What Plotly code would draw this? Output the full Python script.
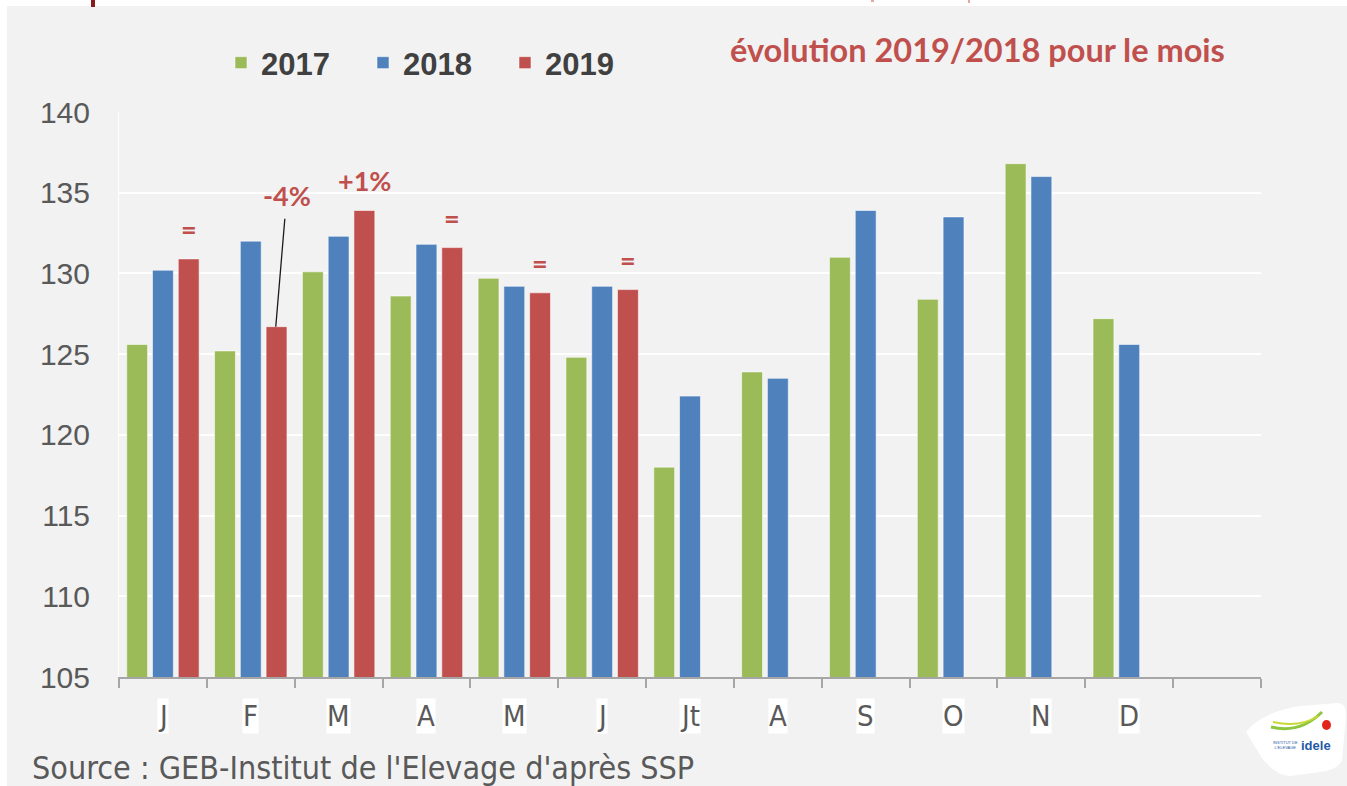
import plotly.graph_objects as go

# Monthly values (index) per year
month_labels = ["J", "F", "M", "A", "M", "J", "Jt", "A", "S", "O", "N", "D"]
years = ["2017", "2018", "2019"]
values_2017 = [125.6, 125.2, 130.1, 128.6, 129.7, 124.8, 118.0, 123.9, 131.0, 128.4, 136.8, 127.2]
values_2018 = [130.2, 132.0, 132.3, 131.8, 129.2, 129.2, 122.4, 123.5, 133.9, 133.5, 136.0, 125.6]
values_2019 = [130.9, 126.7, 133.9, 131.6, 128.8, 129.0, None, None, None, None, None, None]
# Year-on-year change 2019/2018 written above each 2019 bar
evolution_labels = ["=", "-4%", "+1%", "=", "=", "="]

colors = {"2017": "#9bbb59", "2018": "#4f81bd", "2019": "#c0504d"}
series = {"2017": values_2017, "2018": values_2018, "2019": values_2019}

W, H = 1347, 786
L, R, T, B = 119, 86, 112, 109
plot_w, plot_h = W - L - R, H - T - B

x_idx = list(range(len(month_labels)))
n_slots = len(month_labels) + 1  # one empty slot at the end of the axis

fig = go.Figure()
for yr in years:
    fig.add_trace(go.Bar(
        x=x_idx, y=series[yr], name=yr,
        marker=dict(color=colors[yr], line=dict(color="rgba(255,255,255,0.55)", width=1)),
    ))


def px(X):
    return (X - L) / plot_w


def py(Y):
    return (H - B - Y) / plot_h


annotations = []

# month labels on white boxes below the axis
for i, lab in enumerate(month_labels):
    annotations.append(dict(
        x=i, y=0, xref="x", yref="paper", text=lab, showarrow=False,
        yanchor="middle", yshift=-39, bgcolor="white", borderpad=0,
        font=dict(family="DejaVu Sans Condensed, sans-serif", size=29, color="#595959"),
    ))

# evolution labels above the 2019 bars
slot_shift = 26
label_font = dict(family="Lato, DejaVu Sans, sans-serif", size=27, color=colors["2019"], weight="bold")
for i, lab in enumerate(evolution_labels):
    v = values_2019[i]
    if lab == "-4%":
        annotations.append(dict(
            x=i, y=v, xref="x", yref="y", text=lab, showarrow=True,
            arrowhead=0, arrowwidth=1.3, arrowcolor="#1a1a1a",
            xshift=slot_shift - 1, ax=11, ay=-131, borderpad=6,
            font=label_font,
        ))
    else:
        annotations.append(dict(
            x=i, y=v, xref="x", yref="y", text=lab, showarrow=False,
            xshift=slot_shift, yshift=30, yanchor="middle",
            font=label_font,
        ))

# heading on the right
annotations.append(dict(
    x=px(977), y=py(50), xref="paper", yref="paper", xanchor="center", yanchor="middle",
    text="évolution 2019/2018 pour le mois", showarrow=False,
    font=dict(family="Lato, DejaVu Sans, sans-serif", size=32.5, color=colors["2019"], weight="bold"),
))

# source line
annotations.append(dict(
    x=px(30), y=py(768), xref="paper", yref="paper", xanchor="left", yanchor="middle",
    text="Source : GEB-Institut de l'Elevage d'après SSP", showarrow=False,
    font=dict(family="DejaVu Sans Condensed, sans-serif", size=32, color="#595959"),
))

# logo text
annotations.append(dict(
    x=px(1316), y=py(745), xref="paper", yref="paper", xanchor="center", yanchor="middle",
    text="<b>idele</b>", showarrow=False,
    font=dict(family="Liberation Sans, sans-serif", size=13, color="#1f5aa6"),
))
annotations.append(dict(
    x=px(1285), y=py(745), xref="paper", yref="paper", xanchor="center", yanchor="middle",
    text="INSTITUT DE<br>L'ELEVAGE", showarrow=False,
    font=dict(family="Liberation Sans, sans-serif", size=4, color="#1f5aa6"),
))

shapes = [
    # white margins at the top and left edges
    dict(type="rect", xref="paper", yref="paper", x0=px(0), x1=px(W), y0=py(6), y1=py(0),
         fillcolor="white", line=dict(width=0), layer="below"),
    dict(type="rect", xref="paper", yref="paper", x0=px(0), x1=px(7), y0=py(H), y1=py(0),
         fillcolor="white", line=dict(width=0), layer="below"),
    dict(type="rect", xref="paper", yref="paper", x0=px(91), x1=px(95), y0=py(7), y1=py(0),
         fillcolor="#8b1a1a", line=dict(width=0)),
    dict(type="rect", xref="paper", yref="paper", x0=px(871), x1=px(874), y0=py(2), y1=py(0),
         fillcolor="#e3a8a6", line=dict(width=0)),
    dict(type="rect", xref="paper", yref="paper", x0=px(968), x1=px(970), y0=py(3), y1=py(0),
         fillcolor="#e3a8a6", line=dict(width=0)),
    # logo badge
    dict(type="path", xref="paper", yref="paper",
         path=(f"M {px(1246)},{py(732)} Q {px(1262)},{py(712)} {px(1300)},{py(706)} "
               f"L {px(1338)},{py(703)} Q {px(1347)},{py(704)} {px(1346)},{py(716)} "
               f"L {px(1342)},{py(760)} Q {px(1338)},{py(770)} {px(1320)},{py(772)} "
               f"L {px(1290)},{py(776)} Q {px(1276)},{py(776)} {px(1262)},{py(758)} Z"),
         fillcolor="white", line=dict(width=0)),
    dict(type="path", xref="paper", yref="paper",
         path=f"M {px(1271)},{py(727)} Q {px(1300)},{py(734)} {px(1322)},{py(712)}",
         line=dict(color="#8dc63f", width=3)),
    dict(type="path", xref="paper", yref="paper",
         path=f"M {px(1273)},{py(722)} Q {px(1300)},{py(728)} {px(1318)},{py(716)}",
         line=dict(color="#c9d936", width=2)),
    dict(type="circle", xref="paper", yref="paper", x0=px(1322), x1=px(1331), y0=py(730), y1=py(720),
         fillcolor="#e1251b", line=dict(width=0)),
]

fig.update_layout(
    width=W, height=H,
    margin=dict(l=L, r=R, t=T, b=B, pad=0, autoexpand=False),
    paper_bgcolor="#f2f2f2", plot_bgcolor="#f2f2f2",
    barmode="group", bargap=0.12, bargroupgap=0.19,
    showlegend=True,
    legend=dict(
        orientation="h", xref="paper", yref="paper",
        x=px(221), xanchor="left", y=py(63), yanchor="middle",
        entrywidth=97, entrywidthmode="pixels",
        bgcolor="rgba(0,0,0,0)",
        font=dict(family="Liberation Sans, Arial, sans-serif", size=31,
                  color="#404040", weight="bold"),
    ),
    xaxis=dict(
        range=[-0.5, n_slots - 0.5],
        tickmode="array", tickvals=[i - 0.5 for i in range(n_slots + 1)],
        showticklabels=False, ticks="outside", ticklen=9, tickwidth=2, tickcolor="#a6a6a6",
        showline=True, linecolor="#a6a6a6", linewidth=2,
        showgrid=False, zeroline=False, fixedrange=True, automargin=False,
    ),
    yaxis=dict(
        range=[105, 140], dtick=5, tick0=105,
        showgrid=True, gridcolor="white", gridwidth=2,
        showline=True, linecolor="white", linewidth=1,
        zeroline=False, ticks="", ticklabelstandoff=22, automargin=False,
        tickfont=dict(family="Liberation Sans, Arial, sans-serif", size=30, color="#595959"),
    ),
    annotations=annotations,
    shapes=shapes,
)

fig.write_html("out.html")
